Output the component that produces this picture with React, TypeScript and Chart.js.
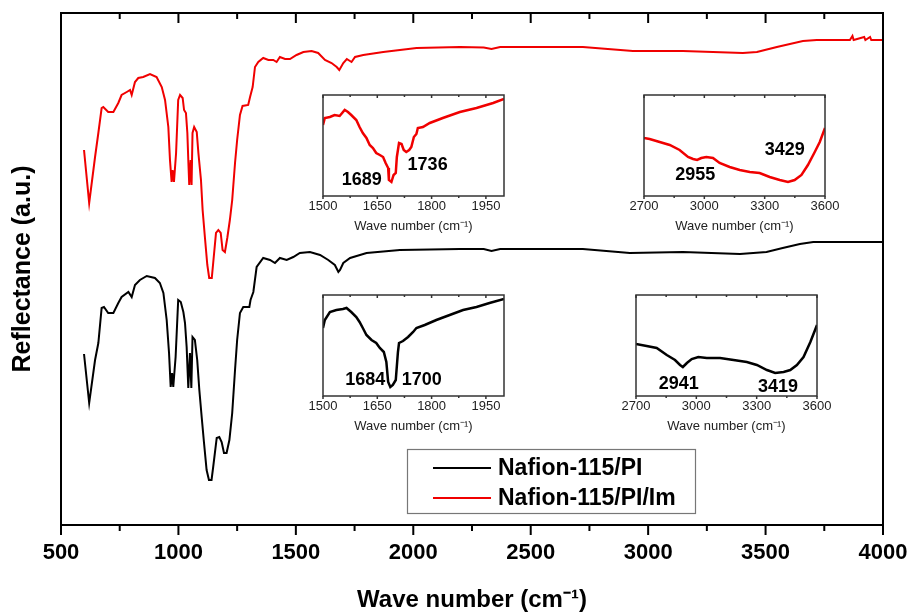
import React, { useEffect, useRef } from 'react';
import { Chart, registerables } from 'chart.js';

Chart.register(...registerables);

const FONT = "'Liberation Sans', Arial, Helvetica, sans-serif";

// ---------- Main spectra ----------
const SERIES_LABELS = ['Nafion-115/PI', 'Nafion-115/PI/Im'];
const SERIES_COLORS = ['#000000', '#f00000'];

const PI_WAVENUMBER = [598, 620, 645, 659, 673, 683, 701, 723, 744, 758, 787, 801, 815, 836, 865, 900, 921, 936, 950, 960, 967, 973, 978, 988, 999, 1010, 1021, 1028, 1035, 1042, 1049, 1055, 1060, 1070, 1080, 1089, 1099, 1109, 1120, 1130, 1141, 1148, 1163, 1174, 1184, 1194, 1205, 1217, 1229, 1241, 1250, 1262, 1276, 1302, 1307, 1319, 1333, 1361, 1390, 1411, 1432, 1461, 1489, 1517, 1560, 1603, 1638, 1666, 1681, 1688, 1702, 1731, 1801, 1943, 2199, 2300, 2333, 2370, 2722, 2922, 3148, 3391, 3504, 3573, 3646, 3703, 4000];
const PI_REFLECTANCE = [1.71, 1.22, 1.65, 1.82, 2.17, 2.18, 2.12, 2.12, 2.22, 2.28, 2.33, 2.28, 2.40, 2.45, 2.49, 2.47, 2.42, 2.32, 2.05, 1.72, 1.38, 1.52, 1.38, 1.68, 2.25, 2.23, 2.13, 2.02, 1.78, 1.37, 1.72, 1.37, 1.88, 1.85, 1.65, 1.35, 1.08, 0.82, 0.55, 0.45, 0.45, 0.58, 0.87, 0.88, 0.83, 0.72, 0.72, 0.85, 1.12, 1.55, 1.85, 2.12, 2.18, 2.18, 2.25, 2.33, 2.58, 2.67, 2.65, 2.62, 2.67, 2.65, 2.68, 2.72, 2.73, 2.70, 2.65, 2.60, 2.53, 2.55, 2.62, 2.67, 2.72, 2.75, 2.76, 2.76, 2.74, 2.76, 2.76, 2.72, 2.73, 2.71, 2.73, 2.77, 2.81, 2.83, 2.83];

const PIIM_WAVENUMBER = [598, 620, 645, 659, 673, 680, 701, 723, 744, 758, 780, 794, 801, 815, 829, 850, 879, 907, 929, 943, 957, 964, 971, 975, 981, 990, 999, 1007, 1018, 1024, 1032, 1038, 1042, 1046, 1052, 1056, 1060, 1067, 1078, 1085, 1096, 1103, 1113, 1123, 1131, 1142, 1148, 1160, 1170, 1180, 1188, 1198, 1208, 1219, 1229, 1241, 1250, 1262, 1273, 1297, 1305, 1316, 1326, 1340, 1361, 1383, 1404, 1418, 1432, 1454, 1475, 1503, 1532, 1567, 1595, 1624, 1652, 1674, 1685, 1702, 1717, 1737, 1752, 1787, 1872, 2014, 2199, 2300, 2333, 2370, 2722, 2935, 3148, 3403, 3463, 3548, 3659, 3718, 3859, 3870, 3875, 3920, 3925, 3945, 3950, 4000];
const PIIM_REFLECTANCE = [3.75, 3.22, 3.68, 3.92, 4.17, 4.18, 4.13, 4.13, 4.22, 4.30, 4.33, 4.35, 4.30, 4.43, 4.47, 4.48, 4.51, 4.48, 4.38, 4.25, 3.98, 3.65, 3.43, 3.55, 3.43, 3.72, 4.25, 4.30, 4.27, 4.15, 4.12, 3.92, 3.65, 3.40, 3.65, 3.40, 3.92, 3.98, 3.93, 3.72, 3.45, 3.15, 2.87, 2.60, 2.47, 2.47, 2.62, 2.92, 2.95, 2.92, 2.75, 2.73, 2.87, 3.05, 3.25, 3.62, 3.85, 4.10, 4.19, 4.20, 4.28, 4.38, 4.58, 4.63, 4.67, 4.65, 4.65, 4.63, 4.68, 4.66, 4.66, 4.70, 4.73, 4.74, 4.72, 4.65, 4.62, 4.58, 4.55, 4.62, 4.66, 4.63, 4.68, 4.70, 4.73, 4.77, 4.78, 4.775, 4.76, 4.78, 4.78, 4.74, 4.74, 4.72, 4.73, 4.78, 4.84, 4.85, 4.85, 4.89, 4.85, 4.88, 4.85, 4.88, 4.85, 4.85];

const MAIN_X_TICKS = [500, 1000, 1500, 2000, 2500, 3000, 3500, 4000];
const MAIN_X_MINOR = [750, 1250, 1750, 2250, 2750, 3250, 3750];

// ---------- Insets ----------
const INSET_LOW_TICKS = [1500, 1650, 1800, 1950];
const INSET_LOW_MINOR = [1575, 1725, 1875];
const INSET_HIGH_TICKS = [2700, 3000, 3300, 3600];
const INSET_HIGH_MINOR = [2850, 3150, 3450];

const IM_LOW_WN = [1500, 1505, 1519, 1532, 1546, 1560, 1569, 1578, 1592, 1601, 1610, 1620, 1629, 1638, 1647, 1657, 1666, 1673, 1680, 1682, 1689, 1695, 1701, 1704, 1710, 1717, 1723, 1730, 1738, 1744, 1751, 1758, 1762, 1776, 1795, 1831, 1878, 1924, 1970, 2000];
const IM_LOW_R = [0.71, 0.78, 0.79, 0.81, 0.80, 0.86, 0.84, 0.81, 0.76, 0.69, 0.63, 0.58, 0.51, 0.48, 0.43, 0.41, 0.39, 0.33, 0.28, 0.16, 0.14, 0.21, 0.23, 0.39, 0.53, 0.52, 0.46, 0.44, 0.46, 0.49, 0.59, 0.62, 0.68, 0.69, 0.73, 0.78, 0.84, 0.88, 0.93, 0.97];

const IM_HIGH_WN = [2700, 2728, 2778, 2828, 2877, 2919, 2944, 2964, 2985, 3010, 3043, 3076, 3126, 3176, 3226, 3275, 3325, 3375, 3416, 3449, 3483, 3515, 3549, 3574, 3600];
const IM_HIGH_R = [0.58, 0.57, 0.54, 0.51, 0.46, 0.39, 0.37, 0.36, 0.38, 0.39, 0.38, 0.33, 0.29, 0.26, 0.24, 0.23, 0.19, 0.16, 0.14, 0.16, 0.21, 0.31, 0.44, 0.54, 0.68];

const PI_LOW_WN = [1500, 1505, 1519, 1537, 1555, 1565, 1578, 1592, 1601, 1610, 1620, 1634, 1647, 1657, 1668, 1675, 1680, 1686, 1693, 1701, 1707, 1710, 1721, 1735, 1749, 1758, 1781, 1813, 1850, 1887, 1924, 1960, 2000];
const PI_LOW_R = [0.68, 0.76, 0.84, 0.86, 0.87, 0.88, 0.84, 0.79, 0.74, 0.68, 0.61, 0.56, 0.53, 0.48, 0.44, 0.34, 0.14, 0.09, 0.11, 0.16, 0.44, 0.53, 0.55, 0.59, 0.64, 0.68, 0.71, 0.76, 0.81, 0.86, 0.89, 0.93, 0.97];

const PI_HIGH_WN = [2700, 2753, 2803, 2853, 2894, 2919, 2933, 2953, 2977, 3010, 3052, 3118, 3185, 3251, 3301, 3351, 3392, 3434, 3467, 3500, 3533, 3567, 3600];
const PI_HIGH_R = [0.52, 0.50, 0.48, 0.41, 0.36, 0.31, 0.29, 0.33, 0.37, 0.39, 0.38, 0.38, 0.36, 0.34, 0.31, 0.26, 0.23, 0.24, 0.26, 0.31, 0.39, 0.54, 0.71];

// peak labels (text, anchor in data units)
const IM_LOW_PEAKS = ['1689', '1736'];
const IM_LOW_PEAK_X = [1607, 1789];
const IM_LOW_PEAK_Y = [0.16, 0.31];
const IM_HIGH_PEAKS = ['2955', '3429'];
const IM_HIGH_PEAK_X = [2955, 3400];
const IM_HIGH_PEAK_Y = [0.21, 0.46];
const PI_LOW_PEAKS = ['1684', '1700'];
const PI_LOW_PEAK_X = [1617, 1773];
const PI_LOW_PEAK_Y = [0.16, 0.16];
const PI_HIGH_PEAKS = ['2941', '3419'];
const PI_HIGH_PEAK_X = [2913, 3406];
const PI_HIGH_PEAK_Y = [0.12, 0.085];

// ---------- layout (pixels) ----------
const W = 911;
const H = 612;
const INSET_PAD_X = 30;
const INSET_PAD_TOP = 6;
const INSET_AXIS_H = 38;
const INSET_FRAMES = [
  { l: 323, t: 95, r: 504, b: 196 },
  { l: 644, t: 95, r: 825, b: 196 },
  { l: 323, t: 295, r: 504, b: 396 },
  { l: 636, t: 295, r: 817, b: 396 },
];

const toPoints = (xs: number[], ys: number[]) => xs.map((x, i) => ({ x, y: ys[i] }));

function makeFramePlugin(id: string, major: number[], minor: number[], majorLen: number, minorLen: number, lineWidth: number, color: string) {
  return {
    id,
    afterDraw(chart: any) {
      const { ctx, chartArea: a } = chart;
      const xs = chart.scales.x;
      ctx.save();
      ctx.strokeStyle = color;
      ctx.lineWidth = lineWidth;
      ctx.strokeRect(a.left, a.top, a.right - a.left, a.bottom - a.top);
      const mark = (v: number, len: number) => {
        const p = xs.getPixelForValue(v);
        ctx.beginPath();
        ctx.moveTo(p, a.bottom);
        ctx.lineTo(p, a.bottom + len);
        ctx.moveTo(p, a.top);
        ctx.lineTo(p, a.top + len);
        ctx.stroke();
      };
      major.forEach((v) => mark(v, majorLen));
      minor.forEach((v) => mark(v, minorLen));
      ctx.restore();
    },
  };
}

function makePeakPlugin(id: string, texts: string[], xs: number[], ys: number[]) {
  return {
    id,
    afterDatasetsDraw(chart: any) {
      const { ctx } = chart;
      const sx = chart.scales.x;
      const sy = chart.scales.y;
      ctx.save();
      ctx.fillStyle = '#000';
      ctx.font = `bold 18px ${FONT}`;
      ctx.textAlign = 'center';
      ctx.textBaseline = 'middle';
      texts.forEach((t, i) => {
        ctx.fillText(t, sx.getPixelForValue(xs[i]), sy.getPixelForValue(ys[i]));
      });
      ctx.restore();
    },
  };
}

const legendPlugin = {
  id: 'boxLegend',
  afterDraw(chart: any) {
    const { ctx } = chart;
    const box = { x: 407, y: 449, w: 288, h: 64 };
    ctx.save();
    ctx.strokeStyle = '#777';
    ctx.lineWidth = 1.2;
    ctx.strokeRect(box.x + 0.5, box.y + 0.5, box.w, box.h);
    ctx.font = `bold 23px ${FONT}`;
    ctx.textBaseline = 'middle';
    ctx.textAlign = 'left';
    chart.data.datasets.forEach((ds: any, i: number) => {
      const y = box.y + 19 + i * 30;
      ctx.strokeStyle = ds.borderColor;
      ctx.lineWidth = 2;
      ctx.beginPath();
      ctx.moveTo(box.x + 26, y);
      ctx.lineTo(box.x + 84, y);
      ctx.stroke();
      ctx.fillStyle = '#000';
      ctx.fillText(ds.label, box.x + 91, y + 1);
    });
    ctx.restore();
  },
};

function insetConfig(
  wn: number[], r: number[], color: string, ticks: number[], minor: number[],
  min: number, max: number, peaks: [string[], number[], number[]], idx: number
): any {
  return {
    type: 'line',
    data: {
      datasets: [{
        data: toPoints(wn, r),
        borderColor: color,
        borderWidth: 2.5,
        pointRadius: 0,
        tension: 0,
        fill: false,
      }],
    },
    options: {
      animation: false,
      responsive: false,
      events: [],
      layout: { padding: { left: INSET_PAD_X, right: INSET_PAD_X, top: INSET_PAD_TOP, bottom: 0 } },
      plugins: { legend: { display: false }, tooltip: { enabled: false } },
      scales: {
        x: {
          type: 'linear',
          min,
          max,
          afterBuildTicks: (s: any) => { s.ticks = ticks.map((v) => ({ value: v })); },
          afterFit: (s: any) => { s.height = INSET_AXIS_H; },
          grid: { display: false, drawTicks: true, tickLength: 3 },
          border: { display: false },
          ticks: {
            color: '#222',
            font: { family: FONT, size: 13 },
            padding: 0,
            maxRotation: 0,
            autoSkip: false,
            callback: (v: any) => String(v),
          },
          title: {
            display: true,
            text: 'Wave number (cm⁻¹)',
            color: '#222',
            font: { family: FONT, size: 13 },
            padding: { top: 0, bottom: 0 },
          },
        },
        y: { display: false, min: 0, max: 1.01 },
      },
    },
    plugins: [
      makeFramePlugin('insetFrame' + idx, ticks, minor, 3, 2, 1.5, '#333'),
      makePeakPlugin('insetPeaks' + idx, peaks[0], peaks[1], peaks[2]),
    ],
  };
}

export default function App() {
  const mainRef = useRef<HTMLCanvasElement | null>(null);
  const insetRefs = [
    useRef<HTMLCanvasElement | null>(null),
    useRef<HTMLCanvasElement | null>(null),
    useRef<HTMLCanvasElement | null>(null),
    useRef<HTMLCanvasElement | null>(null),
  ];

  useEffect(() => {
    const charts: Chart[] = [];
    if (mainRef.current) {
      charts.push(new Chart(mainRef.current, {
        type: 'line',
        data: {
          datasets: [
            {
              label: SERIES_LABELS[0],
              data: toPoints(PI_WAVENUMBER, PI_REFLECTANCE),
              borderColor: SERIES_COLORS[0],
              borderWidth: 2,
              pointRadius: 0,
              tension: 0,
            },
            {
              label: SERIES_LABELS[1],
              data: toPoints(PIIM_WAVENUMBER, PIIM_REFLECTANCE),
              borderColor: SERIES_COLORS[1],
              borderWidth: 2,
              pointRadius: 0,
              tension: 0,
            },
          ],
        },
        options: {
          animation: false,
          responsive: false,
          events: [],
          layout: { padding: { left: 0, right: 28, top: 13, bottom: 0 } },
          plugins: { legend: { display: false }, tooltip: { enabled: false } },
          scales: {
            x: {
              type: 'linear',
              min: 500,
              max: 4000,
              afterBuildTicks: (s: any) => { s.ticks = MAIN_X_TICKS.map((v) => ({ value: v })); },
              afterFit: (s: any) => { s.height = 87; },
              grid: { display: false, drawTicks: true, tickLength: 15 },
              border: { display: false },
              ticks: {
                color: '#000',
                font: { family: FONT, size: 22, weight: 'bold' },
                padding: 0,
                maxRotation: 0,
                autoSkip: false,
                callback: (v: any) => String(v),
              },
              title: {
                display: true,
                text: 'Wave number (cm⁻¹)',
                color: '#000',
                font: { family: FONT, size: 24, weight: 'bold', lineHeight: 1 },
                padding: { top: 0, bottom: 0 },
              },
            },
            y: {
              min: 0,
              max: 5.12,
              afterFit: (s: any) => { s.width = 61; },
              grid: { display: false, drawTicks: false },
              border: { display: false },
              ticks: { display: false },
              title: {
                display: true,
                text: 'Reflectance (a.u.)',
                color: '#000',
                font: { family: FONT, size: 25, weight: 'bold', lineHeight: 1 },
                padding: { top: 11, bottom: 0 },
              },
            },
          },
        } as any,
        plugins: [makeFramePlugin('mainFrame', MAIN_X_TICKS, MAIN_X_MINOR, 10, 6, 2, '#000'), legendPlugin],
      }));
    }
    const cfgs = [
      insetConfig(IM_LOW_WN, IM_LOW_R, SERIES_COLORS[1], INSET_LOW_TICKS, INSET_LOW_MINOR, 1500, 2000, [IM_LOW_PEAKS, IM_LOW_PEAK_X, IM_LOW_PEAK_Y], 0),
      insetConfig(IM_HIGH_WN, IM_HIGH_R, SERIES_COLORS[1], INSET_HIGH_TICKS, INSET_HIGH_MINOR, 2700, 3600, [IM_HIGH_PEAKS, IM_HIGH_PEAK_X, IM_HIGH_PEAK_Y], 1),
      insetConfig(PI_LOW_WN, PI_LOW_R, SERIES_COLORS[0], INSET_LOW_TICKS, INSET_LOW_MINOR, 1500, 2000, [PI_LOW_PEAKS, PI_LOW_PEAK_X, PI_LOW_PEAK_Y], 2),
      insetConfig(PI_HIGH_WN, PI_HIGH_R, SERIES_COLORS[0], INSET_HIGH_TICKS, INSET_HIGH_MINOR, 2700, 3600, [PI_HIGH_PEAKS, PI_HIGH_PEAK_X, PI_HIGH_PEAK_Y], 3),
    ];
    insetRefs.forEach((ref, i) => {
      if (ref.current) charts.push(new Chart(ref.current, cfgs[i]));
    });
    return () => { charts.forEach((c) => c.destroy()); };
  }, []);

  return (
    <div style={{ position: 'fixed', left: 0, top: 0, width: W, height: H, background: '#fff', overflow: 'hidden' }}>
      <canvas ref={mainRef} width={W} height={H} style={{ position: 'absolute', left: 0, top: 0, width: W, height: H }} />
      {INSET_FRAMES.map((f, i) => {
        const w = f.r - f.l + INSET_PAD_X * 2;
        const h = f.b - f.t + INSET_PAD_TOP + INSET_AXIS_H;
        return (
          <canvas
            key={i}
            ref={insetRefs[i]}
            width={w}
            height={h}
            style={{ position: 'absolute', left: f.l - INSET_PAD_X, top: f.t - INSET_PAD_TOP, width: w, height: h }}
          />
        );
      })}
    </div>
  );
}
